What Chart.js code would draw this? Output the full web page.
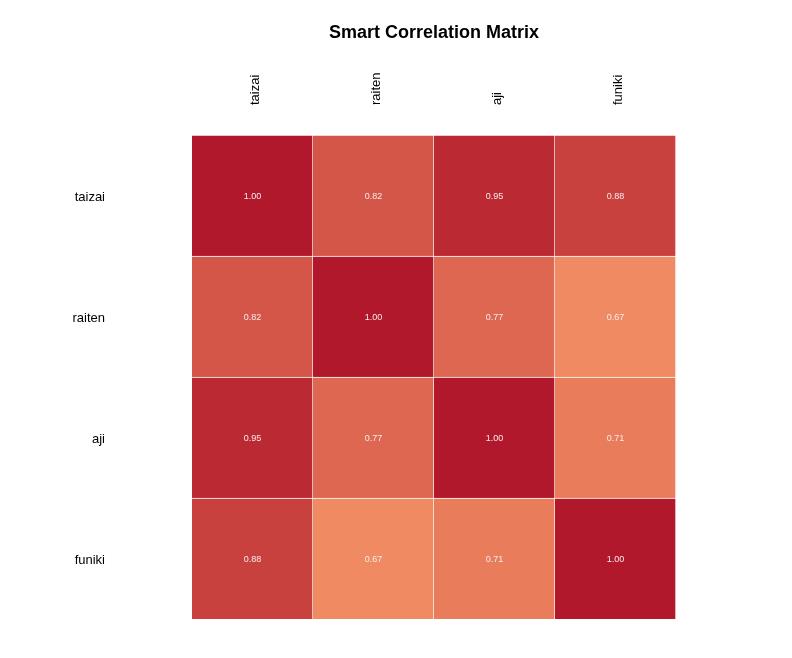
<!DOCTYPE html>
<html>
<head>
<meta charset="utf-8">
<script src="https://cdn.jsdelivr.net/npm/chart.js@4/dist/chart.umd.min.js"></script>
<style>
  html, body { margin: 0; padding: 0; background: #fff; }
  #wrap { width: 792px; height: 658px; }
</style>
</head>
<body>
<div id="wrap"><canvas id="corr" width="792" height="658"></canvas></div>
<script>
const variables = ['taizai', 'raiten', 'aji', 'funiki'];

// correlation rows, top to bottom
const taizaiRow = [1.00, 0.82, 0.95, 0.88];
const raitenRow = [0.82, 1.00, 0.77, 0.67];
const ajiRow    = [0.95, 0.77, 1.00, 0.71];
const funikiRow = [0.88, 0.67, 0.71, 1.00];
const matrixRows = [taizaiRow, raitenRow, ajiRow, funikiRow];

const chartTitle = 'Smart Correlation Matrix';
const fontFamily = '"Liberation Sans", Arial, sans-serif';

// colour scale ends (low -> high)
const lowColor = [239, 138, 98];
const highColor = [178, 24, 43];
const lowVal = 0.67, highVal = 1.00;

function corrColor(v) {
    let t = (v - lowVal) / (highVal - lowVal);
    t = Math.max(0, Math.min(1, t));
    const c = lowColor.map((l, i) => Math.round(l + (highColor[i] - l) * t));
    return `rgb(${c[0]},${c[1]},${c[2]})`;
}

// stacked bars: bottom row first, each cell height 1
const datasets = matrixRows.slice().reverse().map((row, i) => ({
    label: variables[variables.length - 1 - i],
    data: row.map(() => 1),
    corr: row,
    backgroundColor: row.map(corrColor),
    borderColor: '#ffffff',
    borderWidth: { top: 1, right: 1, left: 0, bottom: 0 },
    borderSkipped: false,
    barPercentage: 1,
    categoryPercentage: 1
}));

const cellLabels = {
    id: 'cellLabels',
    afterDatasetsDraw(chart) {
        const ctx = chart.ctx;
        ctx.save();
        ctx.font = `9px ${fontFamily}`;
        ctx.fillStyle = '#f7ecee';
        ctx.textAlign = 'center';
        ctx.textBaseline = 'middle';
        chart.data.datasets.forEach((ds, di) => {
            chart.getDatasetMeta(di).data.forEach((bar, j) => {
                const p = bar.getCenterPoint();
                ctx.fillText(ds.corr[j].toFixed(2), p.x, p.y + 1);
            });
        });
        // title centred over the matrix
        const area = chart.chartArea;
        ctx.font = `bold 18px ${fontFamily}`;
        ctx.fillStyle = '#000';
        ctx.fillText(chartTitle, (area.left + area.right) / 2, 33);
        ctx.restore();
    }
};

new Chart(document.getElementById('corr'), {
    type: 'bar',
    data: { labels: variables, datasets: datasets },
    options: {
        responsive: false,
        animation: false,
        layout: { padding: { left: 0, right: 116, top: 0, bottom: 39 } },
        plugins: {
            legend: { display: false },
            tooltip: { enabled: false },
            title: { display: false }
        },
        scales: {
            x: {
                position: 'top',
                stacked: true,
                grid: { display: false, drawTicks: false },
                border: { display: false },
                ticks: {
                    minRotation: 90,
                    maxRotation: 90,
                    padding: 30,
                    labelOffset: 19,
                    color: '#000',
                    font: { family: fontFamily, size: 13 }
                },
                afterFit(scale) { scale.height = 135; }
            },
            y: {
                stacked: true,
                min: 0,
                max: 4,
                grid: { display: false, drawTicks: false },
                border: { display: false },
                afterBuildTicks(scale) {
                    scale.ticks = [0.5, 1.5, 2.5, 3.5].map(v => ({ value: v }));
                },
                ticks: {
                    padding: 87,
                    labelOffset: 2,
                    color: '#000',
                    font: { family: fontFamily, size: 13 },
                    callback: v => variables[variables.length - 1 - Math.floor(v)]
                },
                afterFit(scale) {
                    scale.width = 192;
                    scale.paddingTop = 0;
                    scale.paddingBottom = 0;
                }
            }
        }
    },
    plugins: [cellLabels]
});
</script>
</body>
</html>
